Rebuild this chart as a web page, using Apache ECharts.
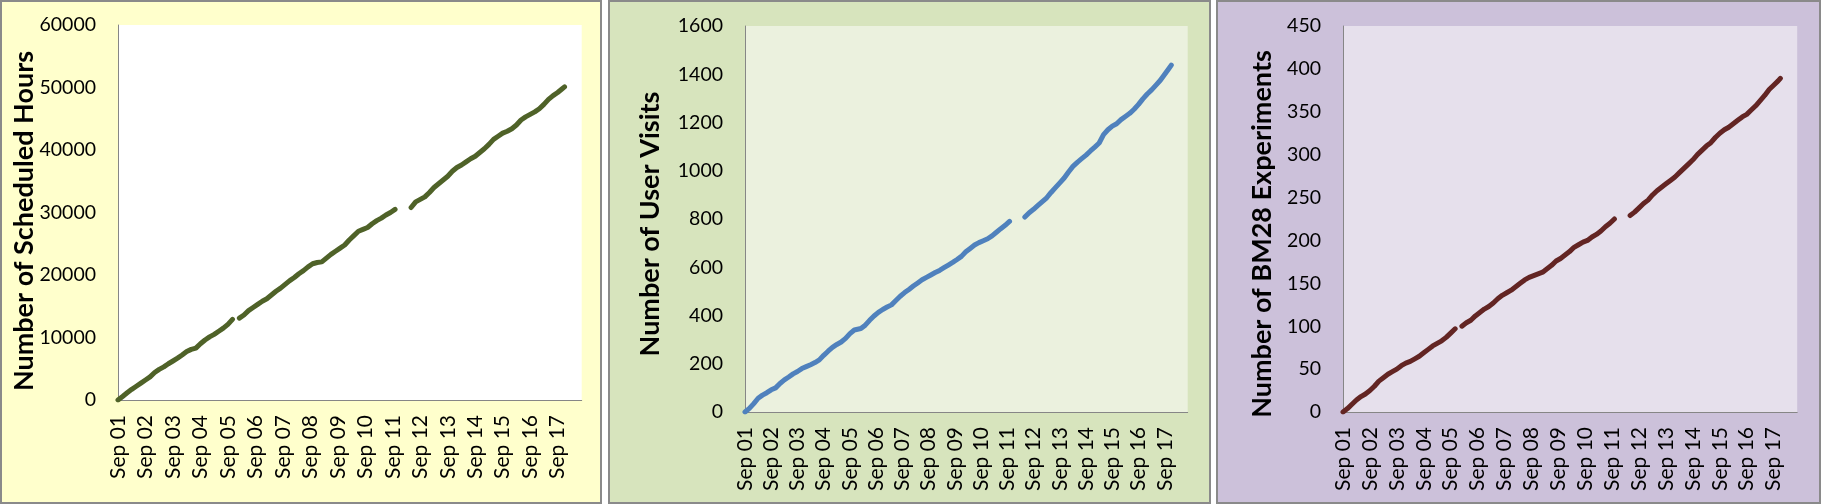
<!DOCTYPE html>
<html>
<head>
<meta charset="utf-8">
<script src="https://cdn.jsdelivr.net/npm/echarts@6/dist/echarts.min.js"></script>
<style>
  html, body { margin: 0; padding: 0; background: #ffffff; }
  #wrap { position: relative; width: 1821px; height: 504px; overflow: hidden; }
  .panel { position: absolute; top: 0; height: 504px; box-sizing: border-box; border: 2px solid #8a8a8a; }
  #chart { position: absolute; left: 0; top: 0; width: 1821px; height: 504px; }
</style>
</head>
<body>
<div id="wrap">
  <div class="panel" style="left:0px;width:602px;background:#FFFFCC;"></div>
  <div class="panel" style="left:608px;width:603px;background:#D7E4BD;"></div>
  <div class="panel" style="left:1216px;width:605px;background:#CCC1DA;"></div>
  <div id="chart"></div>
</div>
<script>
// ---- data (months counted from Sep 2001; tick labels every 12 months) ----
const xLabels = ['Sep 01','Sep 02','Sep 03','Sep 04','Sep 05','Sep 06','Sep 07','Sep 08','Sep 09',
                 'Sep 10','Sep 11','Sep 12','Sep 13','Sep 14','Sep 15','Sep 16','Sep 17'];

const months = [
  0,2,4,6,8,10,12,14,16,18,20,22,24,26,28,30,32,34,36,38,40,42,44,46,48,50,
  51,
  53,55,57,59,61,63,65,67,69,71,73,75,77,79,81,83,85,87,89,91,93,95,97,99,101,103,105,107,109,111,113,115,117,119,121,
  124,
  128,130,132,134,136,138,140,142,144,146,148,150,152,154,156,158,160,162,164,166,168,170,172,174,176,178,180,182,184,186,188,190,192,194,195
];

const scheduledHours = [
  0,560,1150,1712,2200,2700,3200,3700,4400,4900,5300,5800,6240,6700,7200,7750,8100,8300,9000,9600,10100,10500,11000,11500,12100,12900,
  null,
  13100,13600,14300,14800,15300,15800,16200,16800,17400,17900,18500,19100,19600,20200,20700,21300,21800,22000,22100,22700,23300,23800,24300,24800,25600,26300,27000,27300,27600,28200,28700,29100,29600,30000,30500,
  null,
  30800,31700,32100,32500,33200,34000,34600,35200,35800,36600,37200,37600,38100,38600,39000,39600,40200,40900,41700,42200,42700,43000,43400,44000,44800,45300,45700,46100,46600,47300,48100,48700,49200,49800,50100
];

const userVisits = [
  0,15,35,57,70,80,92,100,118,133,145,158,168,180,188,196,205,216,235,252,268,280,290,305,325,340,
  342,
  346,360,380,398,413,425,435,444,462,480,495,508,522,535,548,558,568,578,587,598,609,620,632,645,664,678,692,702,710,718,730,745,760,774,790,
  null,
  808,826,840,856,872,888,910,930,950,970,995,1018,1035,1050,1065,1082,1098,1115,1150,1170,1185,1195,1212,1225,1238,1255,1275,1298,1318,1335,1355,1375,1400,1425,1438
];

const bm28Experiments = [
  0,4,9,14,18,21,25,30,36,40,44,47,50,54,57,59,62,65,69,73,77,80,83,87,92,97,
  null,
  100,104,107,112,116,120,123,127,132,136,139,142,146,150,154,157,159,161,163,167,171,176,179,183,187,192,195,198,200,204,207,211,216,220,225,
  null,
  229,233,238,243,247,253,258,262,266,270,274,279,284,289,294,300,305,310,314,320,325,329,332,336,340,344,347,352,357,363,369,376,381,386,389
];

const yTitles = ['Number of Scheduled Hours', 'Number of User Visits', 'Number of BM28 Experiments'];
const yMax = [60000, 1600, 450];
const yStep = [10000, 200, 50];

// ---- chart ----
const FONT = 'Lato, "Open Sans", sans-serif';
const colors = ['#4F6228', '#4F81BD', '#632523'];
const plotBg = ['#FFFFFF', '#EBF1DE', '#E6E0EC'];
const grids = [
  { left: 118, top: 25, width: 463.7, height: 375 },
  { left: 745, top: 26, width: 442.7, height: 386 },
  { left: 1343, top: 26, width: 454.2, height: 386 }
];
const titlePos = [[24, 221], [650, 224], [1262, 234]];
const seriesValues = [scheduledHours, userVisits, bm28Experiments];

function pairs(vals) {
  return months.map((m, i) => [m, vals[i] === null ? '-' : vals[i]]);
}

const option = {
  animation: false,
  backgroundColor: 'transparent',
  grid: grids.map((g, i) => Object.assign({ show: true, backgroundColor: plotBg[i], borderWidth: 0 }, g)),
  xAxis: grids.map((g, i) => ({
    type: 'value', gridIndex: i, min: 0, max: 202.5, interval: 12,
    axisLine: { show: true, lineStyle: { color: '#868686', width: 1 } },
    axisTick: { show: false },
    splitLine: { show: false },
    axisLabel: {
      rotate: 90, margin: 15, color: '#000', fontFamily: FONT, fontSize: 21,
      showMinLabel: true, showMaxLabel: true,
      formatter: v => (v % 12 === 0 && xLabels[v / 12] !== undefined) ? xLabels[v / 12] : ''
    }
  })),
  yAxis: grids.map((g, i) => ({
    type: 'value', gridIndex: i, min: 0, max: yMax[i], interval: yStep[i],
    axisLine: { show: true, lineStyle: { color: '#868686', width: 1 } },
    axisTick: { show: false },
    splitLine: { show: false },
    axisLabel: { margin: 22, color: '#000', fontFamily: FONT, fontSize: 19.5,
                 formatter: v => String(v) }
  })),
  series: seriesValues.map((vals, i) => ({
    type: 'line', xAxisIndex: i, yAxisIndex: i,
    data: pairs(vals),
    showSymbol: false, connectNulls: false,
    lineStyle: { color: colors[i], width: 5, cap: 'round', join: 'round' },
    itemStyle: { color: colors[i] }
  })),
  graphic: yTitles.map((t, i) => ({
    type: 'text', x: titlePos[i][0], y: titlePos[i][1], rotation: Math.PI / 2,
    style: { text: t, fontFamily: FONT, fontWeight: 'bold', fontSize: 27, fill: '#000',
             align: 'center', verticalAlign: 'middle' }
  }))
};

const chart = echarts.init(document.getElementById('chart'), null, { renderer: 'canvas' });
chart.setOption(option);
</script>
</body>
</html>
